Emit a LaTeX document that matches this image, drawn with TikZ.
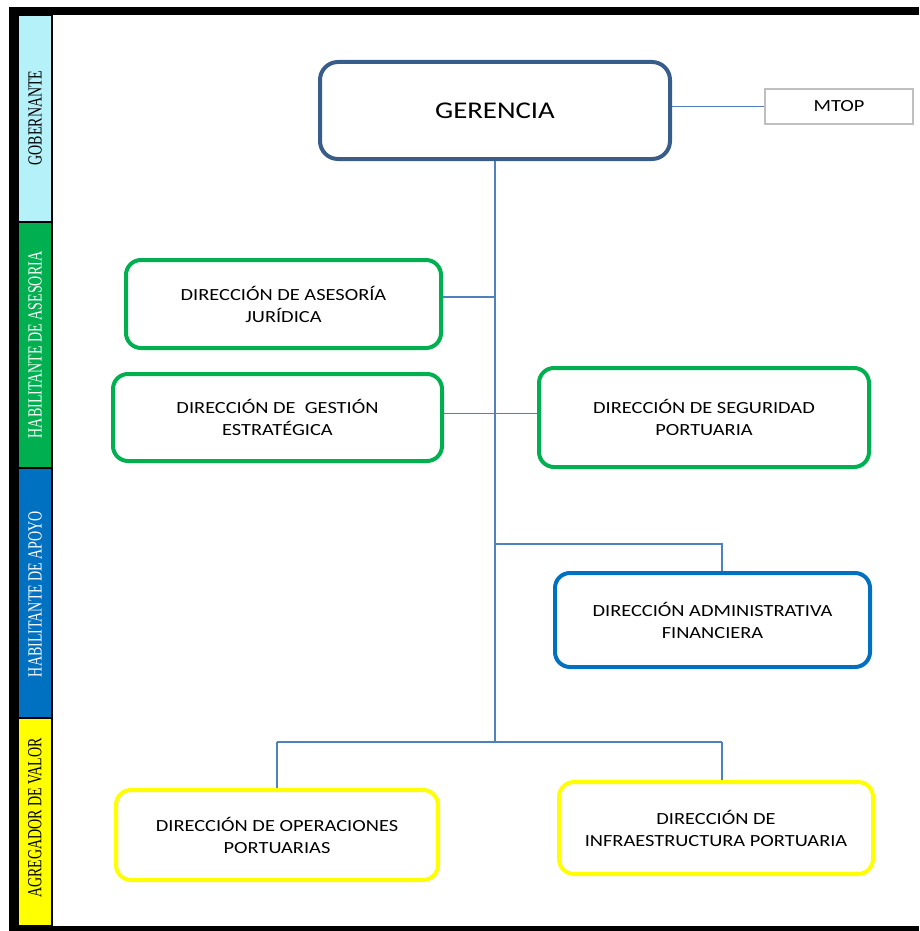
\documentclass[tikz,border=0pt]{standalone}
\usepackage{fontspec}
\setmainfont{Carlito}[FakeStretch=1.2]
\newfontfamily\bandfont{Liberation Serif}
\usetikzlibrary{positioning,calc}
\definecolor{ger_blue}{HTML}{385D8A}
\definecolor{line_blue}{HTML}{4F81BD}
\definecolor{ases_green}{HTML}{00B050}
\definecolor{apoyo_blue}{HTML}{0070C0}
\definecolor{valor_yellow}{HTML}{FFFF00}
\definecolor{gob_cyan}{HTML}{B5F1F9}
\definecolor{mtop_grey}{HTML}{BFBFBF}
\tikzstyle{line} = [draw, line width=1.5pt, line_blue]
\tikzstyle{default}    = [rectangle, text centered, rounded corners=15pt, text=black, font=\fontsize{17}{22}\selectfont, align=center, line width=4pt, inner sep=0pt]
\tikzstyle{gerencia}   = [default, draw=ger_blue, rounded corners=18pt, font=\fontsize{24}{28}\selectfont]
\tikzstyle{mtop}       = [default, draw=mtop_grey, rounded corners=0pt, line width=2pt, font=\fontsize{17}{20}\selectfont]
\tikzstyle{asesoria}   = [default, draw=ases_green]
\tikzstyle{apoyo}      = [default, draw=apoyo_blue]
\tikzstyle{valor}      = [default, draw=valor_yellow]
\tikzstyle{band}       = [draw=black, line width=1.5pt]
\tikzstyle{band_text}  = [rotate=90, font=\bandfont\fontsize{20}{20}\selectfont, inner sep=0pt]
\newcommand{\bandlabel}[1]{\scalebox{0.7}[1]{#1}}

\begin{document}
\begin{tikzpicture}[x=1pt, y=-1pt]
   \useasboundingbox (0,0) rectangle (919,931);

   % Frame
   \fill [black] (9,7) rectangle (919,15);
   \fill [black] (9,7) rectangle (18,931);
   \fill [black] (9,926) rectangle (919,931);

   % Levels
   \path [band, fill=gob_cyan] (18,15) rectangle (52,222);
   \path [band, fill=ases_green] (18,222) rectangle (52,468);
   \path [band, fill=apoyo_blue] (18,468) rectangle (52,718);
   \path [band, fill=valor_yellow] (18,718) rectangle (52,926);
   \node at (35,118) [band_text] (gob label) {\bandlabel{GOBERNANTE}};
   \node at (35,345) [band_text, text=white] (ases label) {\bandlabel{HABILITANTE DE ASESORIA}};
   \node at (35,594) [band_text, text=white] (apoyo label) {\bandlabel{HABILITANTE DE APOYO}};
   \node at (35,818) [band_text] (valor label) {\bandlabel{AGREGADOR DE VALOR}};

   % Gobernante
   \node at (495,110.5) [gerencia, minimum width=350pt, minimum height=97pt] (ger) {GERENCIA};
   \node at (839,106.5) [mtop, minimum width=148pt, minimum height=35pt] (mtop) {MTOP};
   \path [line] (ger.east |- mtop.west) -- (mtop.west);

   % Asesoria
   \node at (283.5,304) [asesoria, minimum width=315pt, minimum height=88pt] (jur) {DIRECCIÓN DE ASESORÍA\\JURÍDICA};
   \node at (277.5,417.5) [asesoria, minimum width=329pt, minimum height=87pt] (ges) {DIRECCIÓN DE \ GESTIÓN\\ESTRATÉGICA};
   \node at (704,417.5) [asesoria, minimum width=330pt, minimum height=99pt] (seg) {DIRECCIÓN DE SEGURIDAD\\PORTUARIA};

   % Apoyo
   \node at (712.5,620) [apoyo, minimum width=315pt, minimum height=94pt] (adm) {DIRECCIÓN ADMINISTRATIVA\\FINANCIERA};

   % Agregador de valor
   \node at (277,835) [valor, minimum width=322pt, minimum height=90pt] (ope) {DIRECCIÓN DE OPERACIONES\\PORTUARIAS};
   \node at (716,828) [valor, minimum width=314pt, minimum height=92pt] (inf) {DIRECCIÓN DE\\INFRAESTRUCTURA PORTUARIA};

   % Connectors
   \coordinate (trunk end) at (495,742);
   \coordinate (adm fork) at (495,544);
   \coordinate (adm top) at ([xshift=9.5pt]adm.north);
   \coordinate (inf top) at ([xshift=6pt]inf.north);
   \path [line] (ger.south) -- (trunk end);
   \path [line] ([yshift=7pt]jur.east) -- ([yshift=7pt]jur.east -| ger.south);
   \path [line] ([yshift=4pt]ges.east) -- ([yshift=4pt]seg.west);
   \path [line] (adm fork) -- (adm fork -| adm top) -- (adm top);
   \path [line] (ope.north |- trunk end) -- (inf top |- trunk end);
   \path [line] (ope.north |- trunk end) -- (ope.north);
   \path [line] (inf top |- trunk end) -- (inf top);
\end{tikzpicture}
\end{document}
